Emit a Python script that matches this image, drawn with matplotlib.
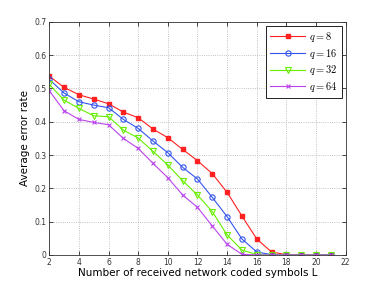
import numpy as np
import matplotlib
matplotlib.use("Agg")
import matplotlib.pyplot as plt

plt.rcParams['mathtext.fontset'] = 'cm'

L = list(range(2, 22))

err_q8 = [0.537, 0.503, 0.481, 0.468, 0.454, 0.429, 0.412, 0.378, 0.352, 0.317,
          0.283, 0.244, 0.188, 0.117, 0.048, 0.009, 0.001, 0.0, 0.0, 0.0]
err_q16 = [0.527, 0.486, 0.460, 0.450, 0.442, 0.407, 0.380, 0.342, 0.307, 0.263,
           0.228, 0.173, 0.115, 0.048, 0.009, 0.001, 0.0, 0.0, 0.0, 0.0]
err_q32 = [0.512, 0.465, 0.440, 0.418, 0.415, 0.375, 0.351, 0.311, 0.270, 0.223,
           0.180, 0.130, 0.060, 0.015, 0.001, 0.0, 0.0, 0.0, 0.0, 0.0]
err_q64 = [0.493, 0.433, 0.407, 0.398, 0.391, 0.350, 0.320, 0.275, 0.232, 0.180,
           0.143, 0.087, 0.032, 0.002, 0.0, 0.0, 0.0, 0.0, 0.0, 0.0]

labels = ['$q = 8$', '$q = 16$', '$q = 32$', '$q = 64$']

fig = plt.figure(figsize=(3.82, 2.87), dpi=100)
ax = fig.add_axes([0.129, 0.1115, 0.776, 0.8125])

ax.plot(L, err_q8, color='#ff2020', marker='s', ms=2.8, lw=0.8,
        mfc='#ff2020', mec='#ff2020', label=labels[0])
ax.plot(L, err_q16, color='#3355ee', marker='o', ms=3.8, lw=0.8,
        mfc='none', mec='#3355ee', mew=0.8, label=labels[1])
ax.plot(L, err_q32, color='#66ee00', marker='v', ms=3.8, lw=0.8,
        mfc='none', mec='#66ee00', mew=0.8, label=labels[2])
ax.plot(L, err_q64, color='#bb44ee', marker='x', ms=2.8, lw=0.8,
        mec='#bb44ee', mew=0.8, label=labels[3])

ax.set_xlim(2, 22)
ax.set_ylim(0, 0.7)
ax.set_xticks(range(2, 23, 2))
ax.set_yticks(np.arange(0, 0.71, 0.1))
ax.set_yticklabels(['0', '0.1', '0.2', '0.3', '0.4', '0.5', '0.6', '0.7'])
ax.tick_params(labelsize=5.5, direction='in', length=3, width=0.5,
               top=True, right=True, pad=2, labelcolor='#333333')
ax.grid(True, linestyle=':', color='#b0b0b0', lw=0.6)
for s in ax.spines.values():
    s.set_linewidth(0.6)
    s.set_color('#333333')

ax.set_xlabel('Number of received network coded symbols L', fontsize=7.5, labelpad=1)
ax.set_ylabel('Average error rate', fontsize=7.5, labelpad=3)

leg = ax.legend(loc='upper right', fontsize=7.5, fancybox=False, framealpha=1,
                edgecolor='#222222', handlelength=3.3, borderpad=0.4,
                labelspacing=0.25, handletextpad=0.4, borderaxespad=0.4)
leg.get_frame().set_linewidth(0.7)

fig.savefig('out.png', dpi=100)
